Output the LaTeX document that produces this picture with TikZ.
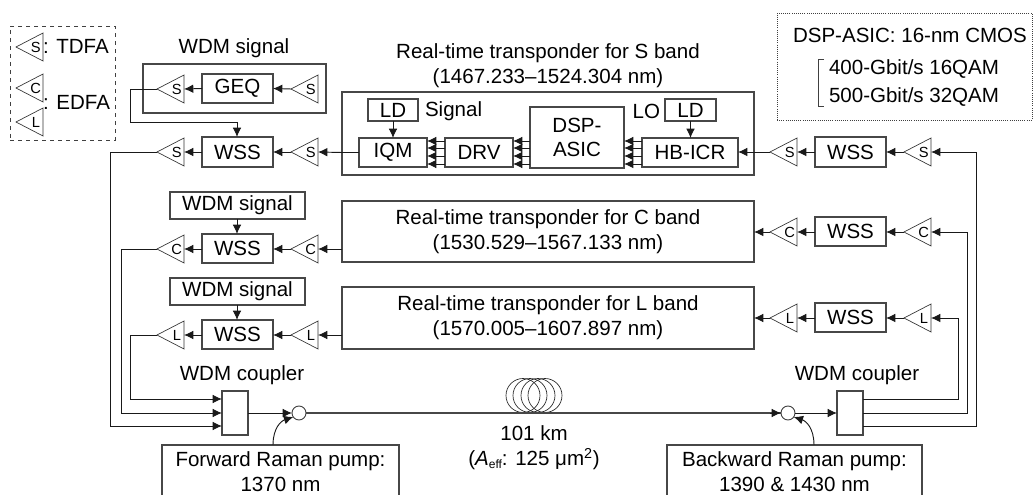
\documentclass[tikz,border=0pt]{standalone}
\usepackage{fontspec}
\setmainfont{Liberation Sans}
\usetikzlibrary{arrows.meta,shapes.geometric}
\tikzset{
  box/.style={draw=black!72, line width=.8pt, inner sep=0pt, outer sep=0pt, align=center},
  amp/.style={draw=black!80, line width=.5pt, shape=isosceles triangle, shape border rotate=180,
    isosceles triangle stretches, inner sep=0pt, outer sep=0pt, anchor=apex,
    minimum width=21pt, minimum height=20.25pt, font=\fontsize{11}{11}\selectfont},
  sig/.style={draw=black!90, line width=.7pt, -{Latex[length=7pt,width=6.5pt]}},
  wire/.style={draw=black!90, line width=.7pt},
  fiber/.style={draw=black!72, line width=1.4pt},
  lbl/.style={inner sep=0pt, outer sep=0pt, align=center},
}
\newcommand{\BoxNode}[6]{%
  \node[box, minimum width={(#4-#2)*.75pt}, minimum height={(#5-#3)*.75pt}] (#1) at ({(#2+#4)/2},{(#3+#5)/2}) {#6};
}
\newcommand{\AmpNode}[4]{%
  \node[amp] (#1) at (#2,#3) {#4};
}
\begin{document}
\begin{tikzpicture}[x=.75pt,y=-.75pt,font=\fontsize{15.4}{18.5}\selectfont]
    \useasboundingbox (0,0) rectangle (1033,495);
    % legend boxes
    \node[draw=black!75, dashed, line width=.7pt, minimum width=78.75pt, minimum height=85.5pt, inner sep=0pt] (legend) at (62.5,83) {};
    \node[draw=black!75, densely dotted, line width=.6pt, minimum width=191.25pt, minimum height=80.25pt, inner sep=0pt] (asicNote) at (904.5,66.5) {};
    \AmpNode{legS}{16}{47}{S}
    \AmpNode{legC}{16}{88}{C}
    \AmpNode{legL}{16}{122}{L}
    \node[lbl, anchor=west] (legTdfa) at (43,46) {: TDFA};
    \node[lbl, anchor=west] (legEdfa) at (43,102) {: EDFA};
    \node[lbl, anchor=west] (asicTitle) at (793,35) {DSP-ASIC: 16-nm CMOS};
    \node[lbl, anchor=west] (rate400) at (829,69) {400-Gbit/s 16QAM};
    \node[lbl, anchor=west] (rate500) at (829,97) {500-Gbit/s 32QAM};
    \draw[black!75, line width=.6pt] (824,59) -- (818.5,59) -- (818.5,106) -- (824,106);
    % S band
    \node[lbl] (sigTitle) at (234,48) {WDM signal};
    \BoxNode{sigS}{143}{64}{326}{113}{}
    \BoxNode{geq}{202}{74}{273}{103}{GEQ}
    \AmpNode{geqOut}{157}{89}{S}
    \AmpNode{geqIn}{291}{89}{S}
    \BoxNode{wssS}{202}{137}{273}{167}{WSS}
    \AmpNode{ampSo}{157}{152}{S}
    \AmpNode{ampSi}{291}{152}{S}
    \node[lbl] (trS) at (548,65.5) {Real-time transponder for S band\\(1467.233--1524.304 nm)};
    \BoxNode{boxS}{342}{92}{754}{175}{}
    \BoxNode{ldSig}{368}{99}{418}{121}{LD}
    \node[lbl, anchor=west] (sigLbl) at (425,111) {Signal};
    \BoxNode{iqm}{359}{138}{427}{167}{IQM}
    \BoxNode{drv}{445}{138}{513}{167}{DRV}
    \BoxNode{dsp}{530}{107}{624}{168}{DSP-\\ASIC}
    \BoxNode{icr}{642}{138}{738}{167}{HB-ICR}
    \BoxNode{ldLo}{665}{99}{716}{121}{LD}
    \node[lbl, anchor=east] (loLbl) at (660,111) {LO};
    \AmpNode{ampSd}{770}{152}{S}
    \BoxNode{wssSd}{815}{137}{886}{167}{WSS}
    \AmpNode{ampSp}{904}{152}{S}
    % C band
    \BoxNode{sigC}{170}{192}{305}{219}{WDM signal}
    \BoxNode{wssC}{202}{234}{273}{263}{WSS}
    \AmpNode{ampCo}{157}{249}{C}
    \AmpNode{ampCi}{291}{249}{C}
    \BoxNode{boxC}{342}{201}{754}{262}{Real-time transponder for C band\\(1530.529--1567.133 nm)}
    \AmpNode{ampCd}{770}{232}{C}
    \BoxNode{wssCd}{815}{217}{886}{246}{WSS}
    \AmpNode{ampCp}{904}{232}{C}
    % L band
    \BoxNode{sigL}{170}{278}{305}{305}{WDM signal}
    \BoxNode{wssL}{202}{320}{273}{349}{WSS}
    \AmpNode{ampLo}{157}{335}{L}
    \AmpNode{ampLi}{291}{335}{L}
    \BoxNode{boxL}{342}{287}{754}{349}{Real-time transponder for L band\\(1570.005--1607.897 nm)}
    \AmpNode{ampLd}{770}{318}{L}
    \BoxNode{wssLd}{815}{303}{886}{332}{WSS}
    \AmpNode{ampLp}{904}{318}{L}
    % line part
    \node[lbl] (cplLtxt) at (242,375) {WDM coupler};
    \node[lbl] (cplRtxt) at (857,375) {WDM coupler};
    \BoxNode{cplL}{222}{391}{248}{435}{}
    \BoxNode{cplR}{837}{391}{863}{435}{}
    \node[draw=black!75, circle, line width=.7pt, minimum size=10.5pt, inner sep=0pt, outer sep=0pt] (jnL) at (299,413) {};
    \node[draw=black!75, circle, line width=.7pt, minimum size=10.5pt, inner sep=0pt, outer sep=0pt] (jnR) at (788,413) {};
    \BoxNode{fwd}{162}{445}{399}{498}{Forward Raman pump:\\1370 nm}
    \BoxNode{bwd}{667}{445}{922}{498}{Backward Raman pump:\\1390 \& 1430 nm}
    \node[lbl] (span) at (534,448) {101 km\\(\textit{A}\raisebox{-2.5pt}{\fontsize{9}{9}\selectfont eff}: 125 μm\textsuperscript{2})};
    \foreach \cx in {523,530,538,545} {
      \draw[black!85, line width=.5pt] (\cx,395.5) circle (12.75pt);
    }
    % connectors
    \draw[sig] (geqIn.apex) -- (geq.east);
    \draw[sig] (geq.west) -- (geqOut.lower side);
    \draw[sig] (geqOut.apex) -- (130,89) |- (237,122) -- (wssS.north -| 237,0);
    \draw[sig] (boxS.west |- iqm.west) -- (ampSi.lower side);
    \draw[wire] (boxS.west |- iqm.west) -- (iqm.west);
    \draw[sig] (ampSi.apex) -- (wssS.east |- ampSi.apex);
    \draw[sig] (wssS.west |- ampSo.lower side) -- (ampSo.lower side);
    \draw[sig] (ldSig.south) -- (iqm.north -| ldSig.south);
    \draw[sig] (ldLo.south) -- (icr.north -| ldLo.south);
    \foreach \y in {141,148,156,164} {
      \draw[sig] (icr.west |- 0,\y) -- (dsp.east |- 0,\y);
      \draw[sig] (dsp.west |- 0,\y) -- (drv.east |- 0,\y);
      \draw[sig] (drv.west |- 0,\y) -- (iqm.east |- 0,\y);
    }
    \draw[sig] (ampSd.apex) -- (icr.east |- ampSd.apex);
    \draw[sig] (wssSd.west |- ampSd.apex) -- (ampSd.lower side);
    \draw[sig] (ampSp.apex) -- (wssSd.east |- ampSp.apex);
    \draw[sig] (sigC.south -| 237,0) -- (wssC.north -| 237,0);
    \draw[sig] (sigL.south -| 237,0) -- (wssL.north -| 237,0);
    \foreach \a/\b/\c/\d in {ampCi/wssC/ampCo/boxC, ampLi/wssL/ampLo/boxL} {
      \draw[sig] (\d.west |- \a.apex) -- (\a.lower side);
      \draw[sig] (\a.apex) -- (\b.east |- \a.apex);
      \draw[sig] (\b.west |- \c.apex) -- (\c.lower side);
    }
    \foreach \a/\b/\c/\d in {ampCp/wssCd/ampCd/boxC, ampLp/wssLd/ampLd/boxL} {
      \draw[sig] (\a.apex) -- (\b.east |- \a.apex);
      \draw[sig] (\b.west |- \c.apex) -- (\c.lower side);
      \draw[sig] (\c.apex) -- (\d.east |- \c.apex);
    }
    \draw[sig] (ampSo.apex) -- (110,152) |- (cplL.west |- 0,426);
    \draw[sig] (ampCo.apex) -- (121,249) |- (cplL.west |- 0,413);
    \draw[sig] (ampLo.apex) -- (130,335) |- (cplL.west |- 0,399);
    \draw[sig] (cplR.east |- 0,426) -- (976,426) |- (ampSp.lower side);
    \draw[sig] (cplR.east |- 0,413) -- (967,413) |- (ampCp.lower side);
    \draw[sig] (cplR.east |- 0,399) -- (958,399) |- (ampLp.lower side);
    \draw[sig] (cplL.east) -- (jnL.west);
    \draw[fiber] (jnL.east) -- (534,413);
    \draw[fiber] (534,413) -- (jnR.west);
    \draw[sig] ([xshift=-8pt]jnR.west) -- (jnR.west);
    \draw[sig] (jnR.east) -- (cplR.west);
    \draw[sig] (fwd.north -| 273,0) .. controls (273,428) and (281,421) .. (jnL.215);
    \draw[sig] (bwd.north -| 814,0) .. controls (814,428) and (806,421) .. (jnR.325);
\end{tikzpicture}
\end{document}
